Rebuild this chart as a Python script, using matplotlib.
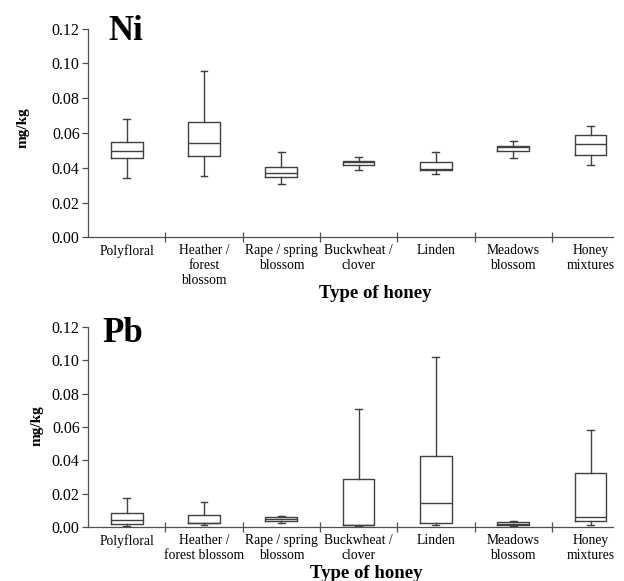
import matplotlib
matplotlib.use('Agg')
import matplotlib.pyplot as plt
from matplotlib.ticker import FixedLocator

plt.rcParams['font.family'] = ['Liberation Serif', 'DejaVu Serif']

# Honey types (labels differ a bit between the two panels)
labels_ni = ['Polyfloral', 'Heather /\nforest\nblossom', 'Rape / spring\nblossom',
             'Buckwheat /\nclover', 'Linden', 'Meadows\nblossom', 'Honey\nmixtures']
labels_pb = ['Polyfloral', 'Heather /\nforest blossom', 'Rape / spring\nblossom',
             'Buckwheat /\nclover', 'Linden', 'Meadows\nblossom', 'Honey\nmixtures']

# Ni (mg/kg) box statistics
ni_low = [0.0339, 0.0353, 0.0307, 0.0387, 0.0366, 0.0458, 0.0414]
ni_q1 = [0.0454, 0.0468, 0.0347, 0.0418, 0.0390, 0.0495, 0.0473]
ni_med = [0.0498, 0.0540, 0.0372, 0.0432, 0.0395, 0.0519, 0.0535]
ni_q3 = [0.0550, 0.0661, 0.0406, 0.0440, 0.0435, 0.0525, 0.0588]
ni_high = [0.0683, 0.0955, 0.0492, 0.0462, 0.0492, 0.0554, 0.0638]

# Pb (mg/kg)
pb_low = [0.0008, 0.0012, 0.0026, 0.0010, 0.0012, 0.0006, 0.0012]
pb_q1 = [0.0020, 0.0024, 0.0038, 0.0012, 0.0024, 0.0014, 0.0036]
pb_med = [0.0044, 0.0028, 0.0052, 0.0014, 0.0145, 0.0020, 0.0062]
pb_q3 = [0.0084, 0.0074, 0.0063, 0.0287, 0.0427, 0.0032, 0.0327]
pb_high = [0.0177, 0.0150, 0.0069, 0.0710, 0.1020, 0.0036, 0.0582]

yticks = [0.00, 0.02, 0.04, 0.06, 0.08, 0.10, 0.12]

W, H = 624, 581
fig = plt.figure(figsize=(W / 100, H / 100), dpi=100)

line_col = '#404040'
axis_col = '#505050'


def draw_panel(rect, low, q1, med, q3, high, labels, title, title_xy):
    ax = fig.add_axes(rect)
    stats = []
    for i in range(len(labels)):
        stats.append({'whislo': low[i], 'q1': q1[i], 'med': med[i],
                      'q3': q3[i], 'whishi': high[i], 'fliers': []})
    lp = dict(color=line_col, linewidth=1.0)
    ax.bxp(stats, positions=range(1, len(labels) + 1), widths=0.41,
           showfliers=False, boxprops=lp, whiskerprops=lp, capprops=lp,
           medianprops=lp, capwidths=0.09)
    ax.set_xlim(0.5, 7.29)
    ax.set_ylim(0, 0.12)
    ax.set_yticks(yticks)
    ax.set_yticklabels(['%.2f' % t for t in yticks], fontsize=11.5)
    ax.set_xticks(range(1, len(labels) + 1))
    ax.set_xticklabels(labels, fontsize=9.8, linespacing=1.2)
    ax.xaxis.set_minor_locator(FixedLocator([1.5, 2.5, 3.5, 4.5, 5.5, 6.5]))
    ax.tick_params(axis='x', which='major', length=0, pad=5)
    ax.tick_params(axis='x', which='minor', length=7, direction='inout',
                   color=axis_col, width=0.9)
    ax.tick_params(axis='y', length=4, color=axis_col, width=0.9, pad=2)
    for s in ['top', 'right']:
        ax.spines[s].set_visible(False)
    for s in ['left', 'bottom']:
        ax.spines[s].set_color(axis_col)
        ax.spines[s].set_linewidth(0.9)
    fig.text(title_xy[0] / W, 1 - title_xy[1] / H, title, fontsize=25,
             fontweight='bold', ha='left', va='baseline')
    return ax


ax1 = draw_panel([88 / W, 1 - 237.3 / H, 525 / W, 208.6 / H],
                 ni_low, ni_q1, ni_med, ni_q3, ni_high, labels_ni, 'Ni', (108, 39.5))
ax2 = draw_panel([88 / W, 1 - 527.3 / H, 525 / W, 200.6 / H],
                 pb_low, pb_q1, pb_med, pb_q3, pb_high, labels_pb, 'Pb', (102, 342.5))

fig.text(23 / W, 1 - 128 / H, 'mg/kg', rotation=90, fontsize=11, fontweight='bold',
         ha='center', va='center')
fig.text(37 / W, 1 - 426 / H, 'mg/kg', rotation=90, fontsize=11, fontweight='bold',
         ha='center', va='center')
fig.text(375 / W, 1 - 298.3 / H, 'Type of honey', fontsize=13.5, fontweight='bold',
         ha='center', va='baseline')
fig.text(366 / W, 1 - 578 / H, 'Type of honey', fontsize=13.5, fontweight='bold',
         ha='center', va='baseline')

fig.savefig('out.png', dpi=100)
